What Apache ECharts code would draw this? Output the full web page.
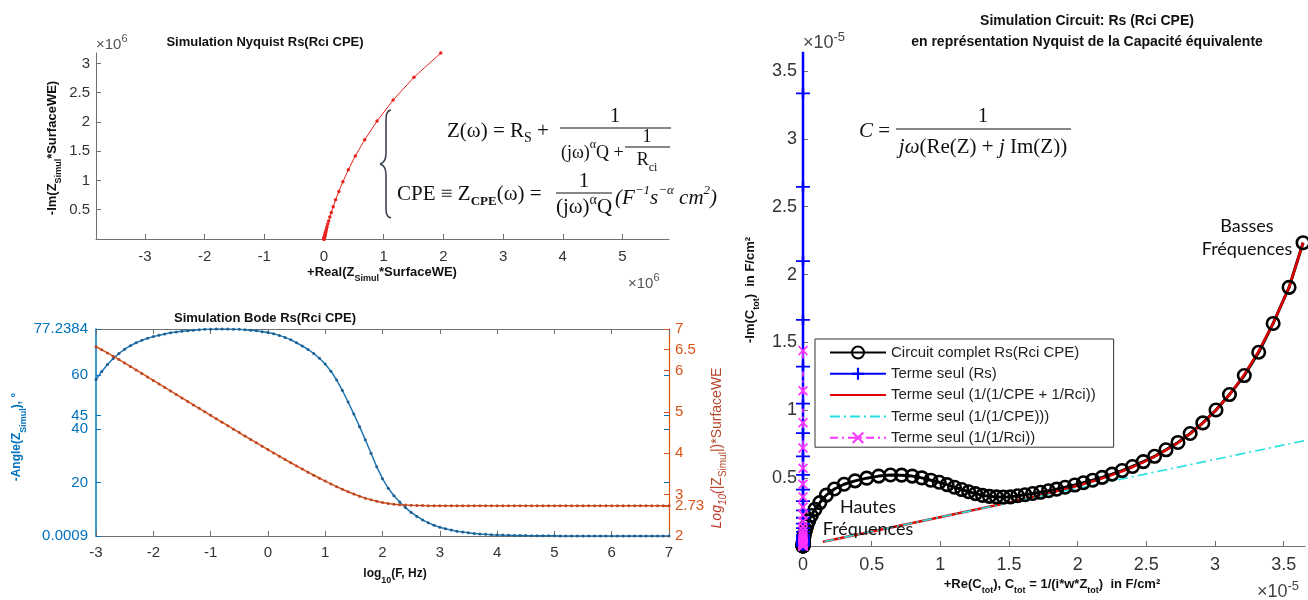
<!DOCTYPE html>
<html><head><meta charset="utf-8">
<script src="https://cdn.jsdelivr.net/npm/echarts@6/dist/echarts.min.js"></script>
<style>html,body{margin:0;padding:0;background:#fff}#c{width:1308px;height:600px}</style>
</head><body><div id="c"></div>
<script>
// ---------- DATA ----------
// Bode: log10(F) grid
const logF = [-3,-2.9,-2.8,-2.7,-2.6,-2.5,-2.4,-2.3,-2.2,-2.1,-2,-1.9,-1.8,-1.7,-1.6,-1.5,-1.4,-1.3,-1.2,-1.1,
 -1,-0.9,-0.8,-0.7,-0.6,-0.5,-0.4,-0.3,-0.2,-0.1,0,0.1,0.2,0.3,0.4,0.5,0.6,0.7,0.8,0.9,
 1,1.1,1.2,1.3,1.4,1.5,1.6,1.7,1.8,1.9,2,2.1,2.2,2.3,2.4,2.5,2.6,2.7,2.8,2.9,
 3,3.1,3.2,3.3,3.4,3.5,3.6,3.7,3.8,3.9,4,4.1,4.2,4.3,4.4,4.5,4.6,4.7,4.8,4.9,
 5,5.1,5.2,5.3,5.4,5.5,5.6,5.7,5.8,5.9,6,6.1,6.2,6.3,6.4,6.5,6.6,6.7,6.8,6.9,7];
// -Angle(Z) in degrees
const phaseDeg = [58.4,61.4,64.0,66.2,68.1,69.7,71.0,72.1,73.0,73.8,
 74.4,74.9,75.4,75.8,76.1,76.4,76.6,76.8,77.0,77.1,
 77.18,77.22,77.2384,77.23,77.19,77.1,76.97,76.8,76.55,76.25,
 75.9,75.45,74.85,74.1,73.2,72.1,70.9,69.6,68.1,66.3,
 64.2,61.5,58.2,54.3,50.0,45.5,40.8,35.9,30.9,25.8,
 21.4,17.8,15.0,12.7,10.6,8.8,7.3,6.0,4.9,4.0,
 3.3,2.7,2.2,1.8,1.45,1.18,0.96,0.78,0.63,0.51,
 0.42,0.34,0.28,0.225,0.183,0.149,0.122,0.099,0.081,0.066,
 0.054,0.044,0.036,0.029,0.024,0.0195,0.016,0.013,0.0106,0.0087,
 0.0071,0.0058,0.0047,0.0038,0.0031,0.0025,0.0021,0.0017,0.0014,0.0011,0.0009];
// log10(|Z|*SurfaceWE)
const logZ = [6.572,6.498,6.422,6.343,6.262,6.180,6.097,6.012,5.928,5.843,
 5.758,5.673,5.588,5.504,5.419,5.335,5.251,5.167,5.083,4.999,
 4.915,4.831,4.748,4.664,4.581,4.498,4.415,4.333,4.251,4.169,
 4.088,4.007,3.927,3.848,3.770,3.693,3.617,3.542,3.468,3.396,
 3.326,3.258,3.192,3.129,3.069,3.013,2.961,2.914,2.873,2.838,
 2.809,2.786,2.768,2.755,2.746,2.740,2.736,2.734,2.732,2.731,
 2.7305,2.7303,2.7302,2.7301,2.73,2.73,2.73,2.73,2.73,2.73,
 2.73,2.73,2.73,2.73,2.73,2.73,2.73,2.73,2.73,2.73,
 2.73,2.73,2.73,2.73,2.73,2.73,2.73,2.73,2.73,2.73,
 2.73,2.73,2.73,2.73,2.73,2.73,2.73,2.73,2.73,2.73,2.73];
// Nyquist of Z (x10^6)
const nyqRe = [1.956,1.507,1.158,0.889,0.682,0.525,0.407,0.316,0.248,0.194,0.154,0.123,0.0976,0.0781,0.0629,0.0506,0.0410,0.0332,0.0269,0.0220,0.0180,0.0148,0.0121,0.0100,0.0082,0.0068,0.0057,0.0047,0.0040,0.0034,0.0028,0.0012,0.0008,0.0006,0.00054,0.000537];
const nyqIm = [3.179,2.764,2.375,2.016,1.696,1.420,1.182,0.978,0.810,0.669,0.552,0.455,0.3745,0.3085,0.2543,0.2092,0.1722,0.1417,0.1166,0.0959,0.0789,0.0649,0.0533,0.0439,0.0361,0.0296,0.0244,0.0200,0.0164,0.0135,0.0111,0.004,0.0015,0.0002,0.00003,0];
// Capacitance Nyquist (x10^-5 F/cm2): full circuit
const capRe = [3.641,3.539,3.423,3.318,3.213,3.105,3.007,2.911,2.819,2.730,2.643,2.560,2.478,2.399,2.323,2.250,2.178,2.109,2.042,1.978,
 1.9085,1.8465,1.7873,1.729,1.6723,1.6169,1.563,
 1.510,1.458,1.408,1.357,1.307,1.256,1.206,1.156,1.103,1.049,0.992,0.931,0.865,0.795,0.718,0.637,0.551,0.464,0.379,0.299,0.229,0.170,0.123,0.087,0.0605,0.041,0.028,0.019,0.0125,0.0083,0.0055,0.0036,0.0024,0.0016,
 0.0007,0.0003,0.00015,0.00007,0.00003,0.00001,0,0,0];
const capIm = [2.235,1.906,1.640,1.428,1.256,1.116,1.002,0.907,0.829,0.763,0.709,0.661,0.622,0.586,0.556,0.530,0.506,0.485,0.466,0.449,
 0.4327,0.4188,0.4073,0.3958,0.3867,0.3777,0.3704,
 0.362,0.361,0.362,0.366,0.373,0.386,0.400,0.416,0.433,0.452,0.470,0.485,0.502,0.515,0.522,0.523,0.515,0.500,0.480,0.455,0.42,0.375,0.32,0.27,0.225,0.185,0.15,0.12,0.095,0.076,0.06,0.047,0.037,0.029,
 0.0186,0.0118,0.0074,0.0047,0.003,0.00094,0.0003,0.00003,0.000003];
// Rs alone (purely imaginary)
const rsIm = [5.3,4.205,3.336,2.647,2.100,1.666,1.322,1.049,0.832,0.660,0.524,0.416,0.330,0.262,0.208,0.165,0.131,0.104,0.0824,0.0654,0.0519,0.0412,0.0327,0.0259,0.0206,0.0163,0.013,0.0103,0.0082,0.0065,0.0052,0.0041,0.0033,0.0026,0.0021,0.0016,0.0013,0.001];
// 1/(1/CPE + 1/Rci)
const parRe = [3.641,3.539,3.423,3.312,3.207,3.105,3.007,2.911,2.819,2.730,2.643,2.560,2.478,2.399,2.323,2.250,2.178,2.109,2.042,1.978,1.914,1.795,1.683,1.578,1.479,1.387,1.005,0.728,0.527,0.382,0.277,0.2006,0.1452];
const parIm = [2.235,1.906,1.640,1.426,1.255,1.115,1.001,0.906,0.827,0.761,0.706,0.658,0.618,0.582,0.551,0.524,0.499,0.477,0.457,0.438,0.421,0.391,0.364,0.339,0.316,0.296,0.214,0.155,0.112,0.081,0.059,0.0427,0.0309];
// CPE alone
const cpeRe = [3.648,2.643,1.914,1.387,1.005,0.728,0.527,0.382,0.277,0.2006,0.1452];
const cpeIm = [0.776,0.562,0.407,0.295,0.214,0.155,0.112,0.081,0.059,0.0427,0.0309];
// Rci alone (purely imaginary)
const rciIm = [1.44,1.144,0.909,0.722,0.573,0.455,0.362,0.287,0.228,0.181,0.144,0.114,0.091,0.072,0.057,0.046,0.036,0.029,0.023,0.018,0.0144,0.0114,0.0091,0.0072,0.0057,0.0046,0.0036,0.0029,0.0023,0.0018,0.0014,0.0011,0.0009,0.0007,0.0006,0.0005];

// tick labels
const nyqXTicks = [-3,-2,-1,0,1,2,3,4,5];
const nyqYTicks = [0.5,1,1.5,2,2.5,3];
const bodeXTicks = [-3,-2,-1,0,1,2,3,4,5,6,7];
const phaseTicks = [0.0009,20,40,45,60,77.2384];
const magTicks = [2,2.73,3,4,5,6,6.5,7];
const capXTicks = [0,0.5,1,1.5,2,2.5,3,3.5];
const capYTicks = [0.5,1,1.5,2,2.5,3,3.5];
const legendNames = ['Circuit complet Rs(Rci CPE)','Terme seul (Rs)','Terme seul (1/(1/CPE + 1/Rci))','Terme seul (1/(1/CPE)))','Terme seul (1/(1/Rci))'];

// ---------- CHART ----------
const SANS = 'Liberation Sans', SERIF = 'Liberation Serif';
const zip = (a, b) => a.map((v, i) => [v, b[i]]);
const PLUS = 'path://M0,4.1H10V5.9H0Z M4.1,0H5.9V10H4.1Z';
const CROSS = 'path://M1.2,0L5,3.8L8.8,0L10,1.2L6.2,5L10,8.8L8.8,10L5,6.2L1.2,10L0,8.8L3.8,5L0,1.2Z';

function axis(base) {
  return Object.assign({ type: 'value', splitLine: { show: false } }, base);
}
function aline(color, width) {
  return { show: true, onZero: false, lineStyle: { color: color || '#707070', width: width || 1 } };
}
function ticks(vals, color) {
  return { show: true, inside: true, length: 5, customValues: vals, lineStyle: { color: color || '#707070' } };
}
function labels(vals, color, size, margin, fmt) {
  return { show: true, customValues: vals, color: color || '#333', fontFamily: SANS, fontSize: size || 15, margin: margin, formatter: fmt || (v => String(v)) };
}

function T(x, y, text, o) {
  o = o || {};
  return { type: 'text', x: x, y: y, rotation: o.rot || 0, z: 100, silent: true,
    style: { text: text, fill: o.fill || '#111', fontFamily: o.family || SANS, fontSize: o.size || 12,
      fontWeight: o.weight || 'normal', fontStyle: o.style || 'normal',
      align: o.align || 'center', verticalAlign: 'middle', rich: o.rich } };
}
function L(x1, y1, x2, y2, w, c) {
  return { type: 'line', z: 100, silent: true, shape: { x1, y1, x2, y2 }, style: { stroke: c || '#111', lineWidth: w || 1.2 } };
}
function B(x1, y1, cx1, cy1, cx2, cy2, x2, y2) {
  return { type: 'bezierCurve', z: 100, silent: true, shape: { x1, y1, cpx1: cx1, cpy1: cy1, cpx2: cx2, cpy2: cy2, x2, y2 }, style: { stroke: '#3c4350', lineWidth: 1.6, fill: null } };
}
const subRich = (size, color, weight) => ({
  a: { fontFamily: SANS, fontSize: size, fontWeight: weight || 'bold', fill: color, lineHeight: 22 },
  s: { fontFamily: SANS, fontSize: Math.round(size * 0.72), fontWeight: weight || 'bold', fill: color, lineHeight: 10, verticalAlign: 'bottom' }
});
const expRich = (size, color) => ({
  a: { fontFamily: SANS, fontSize: size, fill: color, lineHeight: 24 },
  b: { fontFamily: SANS, fontSize: Math.round(size * 0.72), fill: color, lineHeight: 12, verticalAlign: 'top' }
});
const mkSer = (sz) => ({
  n: { fontFamily: SERIF, fontSize: sz, fill: '#111', lineHeight: 28 },
  i: { fontFamily: SERIF, fontSize: sz, fontStyle: 'italic', fill: '#111', lineHeight: 28 },
  s: { fontFamily: SERIF, fontSize: Math.round(sz * 0.67), fill: '#111', lineHeight: 12, verticalAlign: 'bottom' },
  sb: { fontFamily: SERIF, fontSize: 13, fontWeight: 'bold', fill: '#111', lineHeight: 12, verticalAlign: 'bottom' },
  p: { fontFamily: SERIF, fontSize: Math.round(sz * 0.67), fill: '#111', lineHeight: 12, verticalAlign: 'top' },
  pi: { fontFamily: SERIF, fontSize: 13, fontStyle: 'italic', fill: '#111', lineHeight: 12, verticalAlign: 'top' }
});
const serRich = mkSer(21), serSmall = mkSer(18);

const graphics = [
  // Nyquist Z
  T(265, 42, 'Simulation Nyquist Rs(Rci CPE)', { weight: 'bold', size: 13 }),
  T(96, 45, '{a|×10}{b|6}', { align: 'left', rich: expRich(15, '#555') }),
  T(628, 284, '{a|×10}{b|6}', { align: 'left', rich: expRich(15, '#555') }),
  T(52, 148, '{a|-Im(Z}{s|Simul}{a|*SurfaceWE)}', { rot: Math.PI / 2, rich: subRich(13, '#111') }),
  T(382, 272, '{a|+Real(Z}{s|Simul}{a|*SurfaceWE)}', { rich: subRich(13, '#111') }),
  // equations (Nyquist panel)
  B(391, 110, 386, 111, 386, 116, 386, 122), L(386, 122, 386, 153, 1.6, '#3c4350'),
  B(386, 153, 386, 160, 384, 163, 380, 164), B(380, 164, 384, 165, 386, 168, 386, 175),
  L(386, 175, 386, 206, 1.6, '#3c4350'), B(386, 206, 386, 212, 386, 217, 391, 218),
  T(447, 131, '{n|Z(ω) = R}{s|S}{n| +}', { align: 'left', rich: serRich }),
  L(560, 128, 671, 128), T(615, 116, '{n|1}', { rich: serRich }),
  T(561, 153, '{n|(jω)}{p|α}{n|Q +}', { align: 'left', rich: serSmall }),
  L(625, 147, 670, 147), T(647, 137, '{n|1}', { rich: serSmall }), T(647, 160, '{n|R}{s|ci}', { rich: serSmall }),
  T(397, 194, '{n|CPE ≡ Z}{sb|CPE}{n|(ω) =}', { align: 'left', rich: serRich }),
  L(556, 193, 612, 193), T(584, 181, '{n|1}', { rich: serRich }),
  T(584, 207, '{n|(jω)}{p|α}{n|Q}', { rich: serRich }),
  T(615, 198, '{i|(F}{pi|−1}{i|s}{pi|−α}{i| cm}{pi|2}{i|)}', { align: 'left', rich: serRich }),
  // Bode
  T(265, 318, 'Simulation Bode Rs(Rci CPE)', { weight: 'bold', size: 13 }),
  T(395, 574, '{a|log}{s|10}{a|(F, Hz)}', { rich: subRich(12, '#111') }),
  T(17, 437, '{a|-Angle(Z}{s|Simul}{a|), °}', { rot: Math.PI / 2, rich: subRich(12, '#0072BD') }),
  T(717, 448, '{i|Log}{is|10}{i|(}{a||Z}{s|Simul}{a||)*SurfaceWE}', { rot: Math.PI / 2, rich: {
    i: { fontFamily: SANS, fontSize: 14, fontStyle: 'italic', fill: '#C0392B', lineHeight: 22 },
    is: { fontFamily: SANS, fontSize: 10, fontStyle: 'italic', fill: '#C0392B', lineHeight: 10, verticalAlign: 'bottom' },
    a: { fontFamily: SANS, fontSize: 14, fill: '#B5472B', lineHeight: 22 },
    s: { fontFamily: SANS, fontSize: 10, fill: '#B5472B', lineHeight: 10, verticalAlign: 'bottom' } } }),
  // Capacitance panel
  T(1087, 21, 'Simulation Circuit: Rs (Rci CPE)', { weight: 'bold', size: 14 }),
  T(1087, 42, 'en représentation Nyquist de la Capacité équivalente', { weight: 'bold', size: 14 }),
  T(803, 43, '{a|×10}{b|-5}', { align: 'left', rich: expRich(18, '#444') }),
  T(1257, 592, '{a|×10}{b|-5}', { align: 'left', rich: expRich(18, '#444') }),
  T(750, 290, '{a|-Im(C}{s|tot}{a|)  in F/cm²}', { rot: Math.PI / 2, rich: subRich(13, '#111') }),
  T(1052, 584, '{a|+Re(C}{s|tot}{a|), C}{s|tot}{a| = 1/(i*w*Z}{s|tot}{a|)  in F/cm²}', { rich: subRich(13, '#111') }),
  T(859, 131, '{i|C}{n| =}', { align: 'left', rich: serRich }),
  L(896, 129, 1071, 129), T(983, 116, '{n|1}', { rich: serRich }),
  T(983, 147, '{i|jω}{n|(Re(Z) + }{i|j}{n| Im(Z))}', { rich: serRich }),
  T(1247, 226, 'Basses', { family: 'Lato', size: 18 }),
  T(1247, 249, 'Fréquences', { family: 'Lato', size: 18 }),
  T(868, 507, 'Hautes', { family: 'Lato', size: 18 }),
  T(868, 529, 'Fréquences', { family: 'Lato', size: 18 })
];

const option = {
  animation: false,
  backgroundColor: '#fff',
  grid: [
    { left: 96, top: 53, width: 573, height: 186 },
    { left: 96, top: 329, width: 573, height: 207 },
    { left: 803, top: 53, width: 502, height: 493 }
  ],
  xAxis: [
    axis({ gridIndex: 0, min: -3.819, max: 5.779, axisLine: aline(), axisTick: ticks(nyqXTicks), axisLabel: labels(nyqXTicks, '#333', 15, 10) }),
    axis({ gridIndex: 1, min: -3, max: 7, axisLine: aline(), axisTick: ticks(bodeXTicks), axisLabel: labels(bodeXTicks, '#333', 15, 9) }),
    axis({ gridIndex: 1, position: 'top', min: -3, max: 7, axisLine: aline(), axisTick: ticks(bodeXTicks), axisLabel: { show: false } }),
    axis({ gridIndex: 2, min: 0, max: 3.655, axisLine: aline(), axisTick: ticks(capXTicks), axisLabel: labels(capXTicks, '#333', 18, 10) })
  ],
  yAxis: [
    axis({ gridIndex: 0, min: 0, max: 3.179, axisLine: aline(), axisTick: ticks(nyqYTicks), axisLabel: labels(nyqYTicks, '#333', 15, 6) }),
    axis({ gridIndex: 1, min: 0.0009, max: 77.2384, axisLine: aline('#0072BD', 1.5),
      axisTick: ticks(phaseTicks, '#0072BD'), axisLabel: labels(phaseTicks, '#0072BD', 15, 8) }),
    axis({ gridIndex: 1, position: 'right', min: 2, max: 7, axisLine: aline('#D95319', 1.2),
      axisTick: ticks(magTicks, '#D95319'), axisLabel: labels(magTicks, '#D95319', 15, 6) }),
    axis({ gridIndex: 1, position: 'right', min: 0.0009, max: 77.2384, axisLine: { show: false, onZero: false },
      axisTick: ticks([20, 40, 45, 60], '#0072BD'), axisLabel: { show: false } }),
    axis({ gridIndex: 2, min: 0, max: 3.633, axisLine: aline(), axisTick: ticks([0].concat(capYTicks)), axisLabel: labels(capYTicks, '#333', 18, 6) })
  ],
  legend: {
    data: [
      { name: legendNames[0] },
      { name: legendNames[1] },
      { name: legendNames[2], itemStyle: { opacity: 0 } },
      { name: legendNames[3], itemStyle: { opacity: 0 } },
      { name: legendNames[4] }
    ],
    orient: 'vertical', left: 815, top: 339, itemWidth: 56, itemHeight: 15, itemGap: 6.3,
    padding: [6, 18, 2, 14], backgroundColor: '#fff', borderColor: '#333', borderWidth: 1, selectedMode: false,
    textStyle: { fontFamily: SANS, fontSize: 15, color: '#222' }
  },
  series: [
    { type: 'line', xAxisIndex: 0, yAxisIndex: 0, data: zip(nyqRe, nyqIm), symbol: 'circle', symbolSize: 3.5,
      lineStyle: { color: '#E8231E', width: 1 }, itemStyle: { color: '#E8231E' } },
    { type: 'line', xAxisIndex: 1, yAxisIndex: 1, data: zip(logF, phaseDeg), symbol: 'circle', symbolSize: 3,
      lineStyle: { color: '#1F77B4', width: 1.5 }, itemStyle: { color: '#1F5F8F' } },
    { type: 'line', xAxisIndex: 1, yAxisIndex: 2, data: zip(logF, logZ), symbol: 'circle', symbolSize: 3,
      lineStyle: { color: '#D95319', width: 1.5 }, itemStyle: { color: '#B8452A' } },
    { name: legendNames[0], type: 'line', xAxisIndex: 3, yAxisIndex: 4, data: zip(capRe, capIm), symbol: 'circle', symbolSize: 12.5,
      lineStyle: { color: '#000', width: 3 }, itemStyle: { color: 'rgba(255,255,255,0)', borderColor: '#000', borderWidth: 2.6 } },
    { name: legendNames[1], type: 'line', xAxisIndex: 3, yAxisIndex: 4, data: rsIm.map(v => [0, v]), symbol: PLUS, symbolSize: [14, 10],
      lineStyle: { color: '#0000FF', width: 2.5 }, itemStyle: { color: '#0000FF' } },
    { name: legendNames[2], type: 'line', xAxisIndex: 3, yAxisIndex: 4, data: zip(parRe, parIm), symbol: 'none',
      lineStyle: { color: '#E00000', width: 2.5 }, itemStyle: { color: '#E00000' } },
    { name: legendNames[3], type: 'line', xAxisIndex: 3, yAxisIndex: 4, data: zip(cpeRe, cpeIm), symbol: 'none',
      lineStyle: { color: '#22E0E0', width: 1.6, type: [10, 4, 2, 4] }, itemStyle: { color: '#22E0E0' } },
    { name: legendNames[4], type: 'line', xAxisIndex: 3, yAxisIndex: 4, data: rciIm.map(v => [0, v]), symbol: CROSS, symbolSize: 10,
      lineStyle: { color: '#FF33FF', width: 1.6, type: [8, 4, 2, 4] }, itemStyle: { color: '#FF33FF' } }
  ],
  graphic: { elements: graphics }
};
const chart = echarts.init(document.getElementById('c'), null, { renderer: 'canvas' });
chart.setOption(option);
</script>
</body></html>
